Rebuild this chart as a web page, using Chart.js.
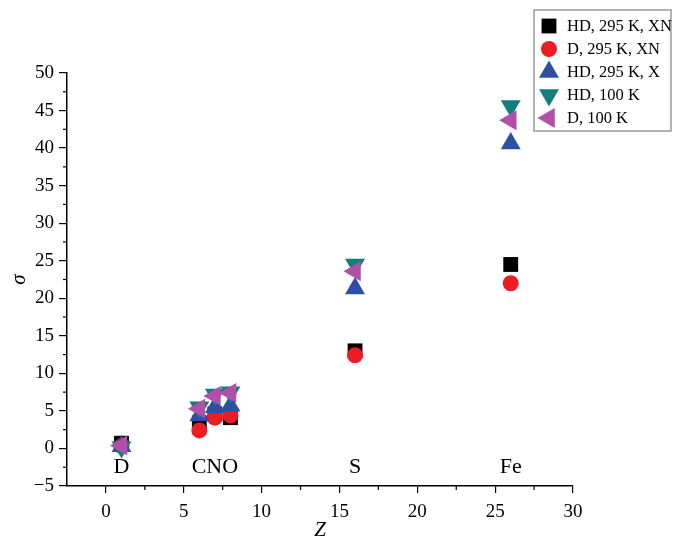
<!DOCTYPE html>
<html>
<head>
<meta charset="utf-8">
<script src="https://cdn.jsdelivr.net/npm/chart.js@4/dist/chart.umd.min.js"></script>
<style>
  html, body { margin: 0; padding: 0; background: #fff; }
  #wrap { width: 673px; height: 538px; position: relative; }
</style>
</head>
<body>
<div id="wrap"><canvas id="c"></canvas></div>
<script>
const Z = [1, 6, 7, 8, 16, 26]
const hdXN = [0.7, 3.4, 4.6, 4.1, 13.0, 24.5]
const dXN = [0.3, 2.4, 4.1, 4.4, 12.4, 22.0]
const hdX = [0.3, 4.4, 5.5, 5.7, 21.3, 40.6]
const hd100 = [0.2, 5.5, 7.2, 7.5, 24.5, 45.6]
const d100 = [0.4, 5.3, 7.0, 7.4, 23.6, 43.7]

const xTicks = [0, 5, 10, 15, 20, 25, 30]
const yTicks = [-5, 0, 5, 10, 15, 20, 25, 30, 35, 40, 45, 50]

const regionNames = ["D", "CNO", "S", "Fe"]
const regionZ = [1, 7, 16, 26]
const regionY = -2.5

const serif = "'Liberation Serif', 'DejaVu Serif', serif"

const series = [
  { label: "HD, 295 K, XN", data: hdXN, color: "#000000", style: "rect", rot: 0, r: 10.5 },
  { label: "D, 295 K, XN", data: dXN, color: "#ec1c24", style: "circle", rot: 0, r: 8 },
  { label: "HD, 295 K, X", data: hdX, color: "#2d4fa5", style: "triangle", rot: 0, r: 11.5 },
  { label: "HD, 100 K", data: hd100, color: "#127d7d", style: "triangle", rot: 180, r: 11.5 },
  { label: "D, 100 K", data: d100, color: "#b24fa8", style: "triangle", rot: -90, r: 11.5 }
]

const datasets = series.map((s, i) => ({
  label: s.label,
  data: Z.map((z, j) => ({ x: z, y: s.data[j] })),
  showLine: false,
  pointStyle: s.style,
  rotation: s.rot,
  pointRadius: s.r,
  pointHoverRadius: s.r,
  backgroundColor: s.color,
  borderColor: s.color,
  borderWidth: 0,
  order: series.length - i
}))

const extras = {
  id: "extras",
  afterDraw(chart) {
    const ctx = chart.ctx
    const xs = chart.scales.x, ys = chart.scales.y
    ctx.save()
    // minor ticks
    ctx.strokeStyle = "#000"
    ctx.lineWidth = 1.2
    for (let v = 2.5; v < 30; v += 5) {
      const px = xs.getPixelForValue(v)
      ctx.beginPath(); ctx.moveTo(px, ys.bottom); ctx.lineTo(px, ys.bottom + 4); ctx.stroke()
    }
    for (let v = -2.5; v < 50; v += 5) {
      const py = ys.getPixelForValue(v)
      ctx.beginPath(); ctx.moveTo(xs.left, py); ctx.lineTo(xs.left - 4, py); ctx.stroke()
    }
    // region labels
    ctx.fillStyle = "#000"
    ctx.font = "22px " + serif
    ctx.textAlign = "center"
    ctx.textBaseline = "middle"
    regionNames.forEach((n, i) => {
      ctx.fillText(n, xs.getPixelForValue(regionZ[i]), ys.getPixelForValue(regionY))
    })
    // legend box
    const bx = 534, by = 10, bw = 137, bh = 121
    ctx.fillStyle = "#fff"
    ctx.fillRect(bx, by, bw, bh)
    ctx.strokeStyle = "#9a9a9a"
    ctx.lineWidth = 1.5
    ctx.strokeRect(bx, by, bw, bh)
    ctx.font = "16.5px " + serif
    ctx.textAlign = "left"
    series.forEach((s, i) => {
      const y = by + 16 + i * 23
      ctx.fillStyle = s.color
      Chart.helpers.drawPoint(ctx, { pointStyle: s.style, rotation: s.rot, radius: s.r, borderWidth: 0 }, bx + 15, y)
      ctx.fillStyle = "#000"
      ctx.fillText(s.label, bx + 33, y + 1)
    })
    ctx.restore()
  }
}

const tickFont = { family: serif, size: 19 }

new Chart(document.getElementById("c"), {
  type: "scatter",
  data: { datasets },
  plugins: [extras],
  options: {
    responsive: true,
    maintainAspectRatio: false,
    animation: false,
    layout: { padding: { top: 73, right: 100, left: 0, bottom: 0 } },
    plugins: { legend: { display: false }, tooltip: { enabled: false } },
    scales: {
      x: {
        type: "linear",
        min: -2.5,
        max: 30,
        afterBuildTicks: s => { s.ticks = xTicks.map(v => ({ value: v })) },
        afterFit: s => { s.height = 52 },
        grid: { drawOnChartArea: false, tickLength: 7, color: "#000", lineWidth: 1.2 },
        border: { color: "#000", width: 1.5 },
        ticks: { color: "#000", font: tickFont, padding: 8, maxRotation: 0 },
        title: { display: true, text: "Z", color: "#000", font: { family: serif, size: 21, style: "italic" }, padding: { top: 0, bottom: -5 } }
      },
      y: {
        min: -5,
        max: 50,
        afterBuildTicks: s => { s.ticks = yTicks.map(v => ({ value: v })) },
        afterFit: s => { s.width = 67 },
        grid: { drawOnChartArea: false, tickLength: 8, color: "#000", lineWidth: 1.2 },
        border: { color: "#000", width: 1.5 },
        ticks: { color: "#000", font: tickFont, padding: 5, callback: v => String(v).replace("-", "\u2212") },
        title: { display: true, text: "σ", color: "#000", font: { family: serif, size: 21, style: "italic" }, padding: { top: 7, bottom: 0 } }
      }
    }
  }
})
</script>
</body>
</html>
